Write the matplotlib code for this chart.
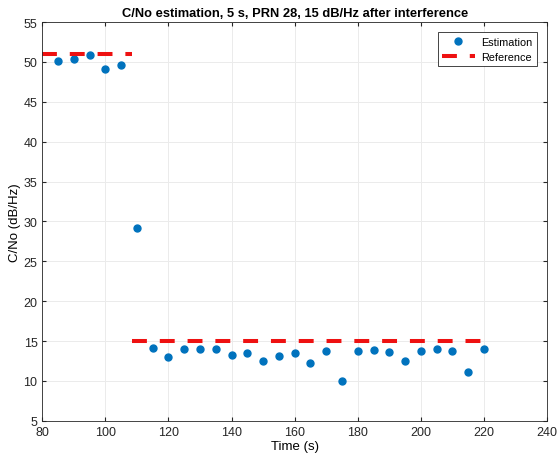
import matplotlib
matplotlib.use('Agg')
import matplotlib.pyplot as plt
import numpy as np

plt.rcParams['font.family'] = ['Liberation Sans', 'DejaVu Sans']

# Оценка C/No по времени
time_s = [85, 90, 95, 100, 105, 110, 115, 120, 125, 130, 135, 140, 145, 150,
          155, 160, 165, 170, 175, 180, 185, 190, 195, 200, 205, 210, 215, 220]
cn0_est = [50.1, 50.4, 50.9, 49.1, 49.6, 29.2, 14.1, 13.0, 14.0, 14.0, 14.0,
           13.3, 13.5, 12.5, 13.1, 13.5, 12.3, 13.7, 10.0, 13.7, 13.9, 13.6,
           12.5, 13.8, 14.0, 13.7, 11.1, 14.0]

# Опорное значение (до и после помехи)
ref_time = [80, 108.5, np.nan, 108.5, 220]
ref_cn0 = [51, 51, np.nan, 15, 15]

fig = plt.figure(figsize=(5.57, 4.6), dpi=100)
ax = fig.add_axes([0.076, 0.083, 0.906, 0.867])

ax.plot(time_s, cn0_est, 'o', color='#0072BD', markersize=5, label='Estimation')
ax.plot(ref_time, ref_cn0, color='#EE1111', linewidth=2.9,
        linestyle=(0, (3.7, 3.2)), label='Reference')

ax.set_xlim(80, 240)
ax.set_ylim(5, 55)
ax.set_xticks(range(80, 241, 20))
ax.set_yticks(range(5, 56, 5))
ax.tick_params(direction='in', top=True, right=True, labelsize=9, length=3,
               colors='#262626')
ax.grid(True, color='#EBEBEB', linewidth=0.7)
ax.set_axisbelow(True)
for s in ax.spines.values():
    s.set_color('#262626')
    s.set_linewidth(0.6)

ax.set_xlabel('Time (s)', fontsize=9.5, labelpad=2)
ax.set_ylabel('C/No (dB/Hz)', fontsize=9.5, labelpad=2)
ax.set_title('C/No estimation, 5 s, PRN 28, 15 dB/Hz after interference',
             fontsize=9.3, fontweight='bold', pad=4)

leg = ax.legend(loc='upper right', fontsize=7.8, fancybox=False,
                edgecolor='#262626', framealpha=1, handlelength=3.0,
                borderaxespad=0.95, labelspacing=0.45, borderpad=0.4,
                handletextpad=0.6)
leg.get_frame().set_linewidth(0.6)

fig.savefig('out.png', dpi=100)
